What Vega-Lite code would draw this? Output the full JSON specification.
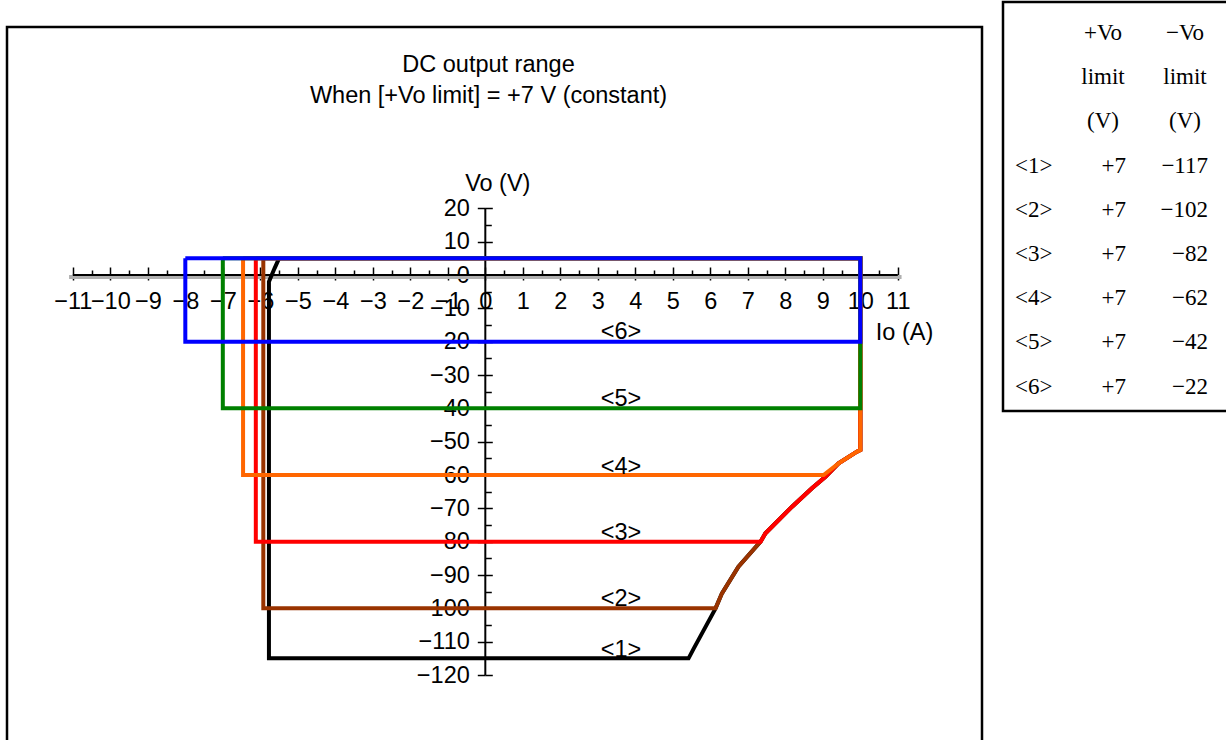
{
  "$schema": "https://vega.github.io/schema/vega-lite/v6.json",
  "padding": {"left": 5, "top": 0, "right": 0, "bottom": 0},
  "background": "white",
  "config": {
    "view": {"stroke": "black", "strokeWidth": 2.5},
    "font": "Liberation Sans"
  },
  "datasets": {
    "curves": [
      {"s": "1", "i": 0, "x": -5.5, "v": 5},
      {"s": "1", "i": 1, "x": -5.62, "v": 2},
      {"s": "1", "i": 2, "x": -5.77, "v": -2},
      {"s": "1", "i": 3, "x": -5.77, "v": -115},
      {"s": "1", "i": 4, "x": 5.42, "v": -115},
      {"s": "1", "i": 5, "x": 5.56, "v": -112},
      {"s": "1", "i": 6, "x": 6.14, "v": -100},
      {"s": "1", "i": 7, "x": 6.31, "v": -95.5},
      {"s": "1", "i": 8, "x": 6.75, "v": -87.5},
      {"s": "1", "i": 9, "x": 7.34, "v": -80},
      {"s": "1", "i": 10, "x": 7.47, "v": -77.5},
      {"s": "1", "i": 11, "x": 8.18, "v": -69.5},
      {"s": "1", "i": 12, "x": 8.71, "v": -64},
      {"s": "1", "i": 13, "x": 9.07, "v": -60.5},
      {"s": "1", "i": 14, "x": 9.42, "v": -56.5},
      {"s": "1", "i": 15, "x": 9.91, "v": -53},
      {"s": "1", "i": 16, "x": 10, "v": -52.5},
      {"s": "1", "i": 17, "x": 10, "v": 5},
      {"s": "1", "i": 18, "x": -5.5, "v": 5},
      {"s": "2", "i": 0, "x": -5.92, "v": 5},
      {"s": "2", "i": 1, "x": -5.92, "v": -100},
      {"s": "2", "i": 2, "x": 6.14, "v": -100},
      {"s": "2", "i": 3, "x": 6.31, "v": -95.5},
      {"s": "2", "i": 4, "x": 6.75, "v": -87.5},
      {"s": "2", "i": 5, "x": 7.34, "v": -80},
      {"s": "2", "i": 6, "x": 7.47, "v": -77.5},
      {"s": "2", "i": 7, "x": 8.18, "v": -69.5},
      {"s": "2", "i": 8, "x": 8.71, "v": -64},
      {"s": "2", "i": 9, "x": 9.07, "v": -60.5},
      {"s": "2", "i": 10, "x": 9.42, "v": -56.5},
      {"s": "2", "i": 11, "x": 9.91, "v": -53},
      {"s": "2", "i": 12, "x": 10, "v": -52.5},
      {"s": "2", "i": 13, "x": 10, "v": 5},
      {"s": "2", "i": 14, "x": -5.92, "v": 5},
      {"s": "3", "i": 0, "x": -6.12, "v": 5},
      {"s": "3", "i": 1, "x": -6.12, "v": -80},
      {"s": "3", "i": 2, "x": 7.34, "v": -80},
      {"s": "3", "i": 3, "x": 7.47, "v": -77.5},
      {"s": "3", "i": 4, "x": 8.18, "v": -69.5},
      {"s": "3", "i": 5, "x": 8.71, "v": -64},
      {"s": "3", "i": 6, "x": 9.07, "v": -60.5},
      {"s": "3", "i": 7, "x": 9.42, "v": -56.5},
      {"s": "3", "i": 8, "x": 9.91, "v": -53},
      {"s": "3", "i": 9, "x": 10, "v": -52.5},
      {"s": "3", "i": 10, "x": 10, "v": 5},
      {"s": "3", "i": 11, "x": -6.12, "v": 5},
      {"s": "4", "i": 0, "x": -6.46, "v": 5},
      {"s": "4", "i": 1, "x": -6.46, "v": -60},
      {"s": "4", "i": 2, "x": 9.02, "v": -60},
      {"s": "4", "i": 3, "x": 9.42, "v": -56.5},
      {"s": "4", "i": 4, "x": 9.91, "v": -53},
      {"s": "4", "i": 5, "x": 10, "v": -52.5},
      {"s": "4", "i": 6, "x": 10, "v": 5},
      {"s": "4", "i": 7, "x": -6.46, "v": 5},
      {"s": "5", "i": 0, "x": -7, "v": 5},
      {"s": "5", "i": 1, "x": -7, "v": -40},
      {"s": "5", "i": 2, "x": 10, "v": -40},
      {"s": "5", "i": 3, "x": 10, "v": 5},
      {"s": "5", "i": 4, "x": -7, "v": 5},
      {"s": "6", "i": 0, "x": -8, "v": 5},
      {"s": "6", "i": 1, "x": -8, "v": -20},
      {"s": "6", "i": 2, "x": 10, "v": -20},
      {"s": "6", "i": 3, "x": 10, "v": 5},
      {"s": "6", "i": 4, "x": -8, "v": 5}
    ],
    "labels": [
      {"lab": "<1>", "x": 3.62, "v": -112.6},
      {"lab": "<2>", "x": 3.62, "v": -97.2},
      {"lab": "<3>", "x": 3.62, "v": -77.4},
      {"lab": "<4>", "x": 3.62, "v": -57.6},
      {"lab": "<5>", "x": 3.62, "v": -37.2},
      {"lab": "<6>", "x": 3.62, "v": -17.1}
    ],
    "axislines": [
      {"x": -11, "x2": 11, "v": 0, "v2": 0},
      {"x": 0, "x2": 0, "v": -120, "v2": 20}
    ],
    "xband": [
      {"x": -11.1, "x2": 11.1, "v": -0.6}
    ],
    "table": [
      {"r": 0, "c": "plus", "t": "+Vo"},
      {"r": 0, "c": "minus", "t": "−Vo"},
      {"r": 1, "c": "plus", "t": "limit"},
      {"r": 1, "c": "minus", "t": "limit"},
      {"r": 2, "c": "plus", "t": "(V)"},
      {"r": 2, "c": "minus", "t": "(V)"},
      {"r": 3, "c": "lab", "t": "<1>"},
      {"r": 3, "c": "plus", "t": "+7"},
      {"r": 3, "c": "minus", "t": "−117"},
      {"r": 4, "c": "lab", "t": "<2>"},
      {"r": 4, "c": "plus", "t": "+7"},
      {"r": 4, "c": "minus", "t": "−102"},
      {"r": 5, "c": "lab", "t": "<3>"},
      {"r": 5, "c": "plus", "t": "+7"},
      {"r": 5, "c": "minus", "t": "−82"},
      {"r": 6, "c": "lab", "t": "<4>"},
      {"r": 6, "c": "plus", "t": "+7"},
      {"r": 6, "c": "minus", "t": "−62"},
      {"r": 7, "c": "lab", "t": "<5>"},
      {"r": 7, "c": "plus", "t": "+7"},
      {"r": 7, "c": "minus", "t": "−42"},
      {"r": 8, "c": "lab", "t": "<6>"},
      {"r": 8, "c": "plus", "t": "+7"},
      {"r": 8, "c": "minus", "t": "−22"}
    ]
  },
  "spacing": 17,
  "hconcat": [
    {
      "spacing": 0,
      "vconcat": [
        {
          "width": 975,
          "height": 23,
          "view": {"stroke": null, "fill": "transparent"},
          "data": {"values": []},
          "mark": "point"
        },
        {
          "width": 975,
          "height": 720,
          "title": {
            "text": "DC output range",
            "subtitle": "When [+Vo limit] = +7 V (constant)",
            "font": "Liberation Sans",
            "subtitleFont": "Liberation Sans",
            "fontSize": 23.5,
            "subtitleFontSize": 23.5,
            "fontWeight": "normal",
            "color": "black",
            "subtitleColor": "black",
            "anchor": "middle",
            "offset": -80,
            "subtitlePadding": 7,
            "dx": -6
          },
          "resolve": {"axis": {"x": "independent", "y": "independent"}},
          "layer": [
            {
              "data": {"name": "xband"},
              "mark": {"type": "rule", "color": "#b0b0b0", "strokeWidth": 4},
              "encoding": {
                "x": {"field": "x", "type": "quantitative", "axis": null},
                "x2": {"field": "x2"},
                "y": {"field": "v", "type": "quantitative", "axis": null}
              }
            },
            {
              "data": {"name": "axislines"},
              "mark": {"type": "rule", "color": "black", "strokeWidth": 2},
              "encoding": {
                "x": {
                  "field": "x", "type": "quantitative",
                  "scale": {"domain": [-12.755, 13.245], "nice": false, "zero": false},
                  "axis": {
                    "orient": "bottom", "offset": -472,
                    "values": [-11, -10, -9, -8, -7, -6, -5, -4, -3, -2, -1, 0, 1, 2, 3, 4, 5, 6, 7, 8, 9, 10, 11],
                    "domain": false, "grid": false,
                    "tickSize": 5, "tickColor": "black", "tickWidth": 1.5,
                    "labelFontSize": 23.5, "labelFont": "Liberation Sans", "labelColor": "black",
                    "labelPadding": 9, "labelOverlap": false, "labelFlush": false, "labelBound": false,
                    "title": "Io (A)", "titleFont": "Liberation Sans", "titleFontSize": 23.5, "titleFontWeight": "normal",
                    "titleColor": "black", "titleX": 897, "titleY": 57, "titleAlign": "center", "titleBaseline": "middle", "titleAngle": 0
                  }
                },
                "x2": {"field": "x2"},
                "y": {
                  "field": "v", "type": "quantitative",
                  "scale": {"domain": [-141.6, 74.4], "nice": false, "zero": false},
                  "axis": {
                    "orient": "left", "offset": -478.3,
                    "values": [-120, -110, -100, -90, -80, -70, -60, -50, -40, -30, -20, -10, 0, 10, 20],
                    "domain": false, "grid": false,
                    "tickSize": 8, "tickColor": "black", "tickWidth": 1.5,
                    "labelFontSize": 23.5, "labelFont": "Liberation Sans", "labelColor": "black",
                    "labelPadding": 8, "labelOverlap": false, "labelFlush": false, "labelBound": false,
                    "title": "Vo (V)", "titleFont": "Liberation Sans", "titleFontSize": 23.5, "titleFontWeight": "normal",
                    "titleColor": "black", "titleX": 12, "titleY": 156, "titleAlign": "center", "titleBaseline": "middle", "titleAngle": 0
                  }
                },
                "y2": {"field": "v2"}
              }
            },
            {
              "data": {"name": "curves"},
              "mark": {"type": "line", "strokeWidth": 4},
              "encoding": {
                "x": {
                  "field": "x", "type": "quantitative",
                  "axis": {
                    "orient": "top", "offset": -248,
                    "values": [-11, -10.5, -10, -9.5, -9, -8.5, -8, -7.5, -7, -6.5, -6, -5.5, -5, -4.5, -4, -3.5, -3, -2.5, -2, -1.5, -1, -0.5, 0, 0.5, 1, 1.5, 2, 2.5, 3, 3.5, 4, 4.5, 5, 5.5, 6, 6.5, 7, 7.5, 8, 8.5, 9, 9.5, 10, 10.5, 11],
                    "domain": false, "grid": false, "labels": false,
                    "tickColor": "black", "tickWidth": 1.5,
                    "tickSize": {"condition": {"test": "datum.value % 1 === 0", "value": 8}, "value": 5},
                    "title": null
                  }
                },
                "y": {
                  "field": "v", "type": "quantitative",
                  "axis": {
                    "orient": "right", "offset": -496.7,
                    "values": [-120, -115, -110, -105, -100, -95, -90, -85, -80, -75, -70, -65, -60, -55, -50, -45, -40, -35, -30, -25, -20, -15, -10, -5, 0, 5, 10, 15, 20],
                    "domain": false, "grid": false, "labels": false,
                    "tickColor": "black", "tickWidth": 1.5,
                    "tickSize": {"condition": {"test": "datum.value % 10 === 0", "value": 7}, "value": 6},
                    "title": null
                  }
                },
                "color": {
                  "field": "s", "type": "nominal",
                  "scale": {"domain": ["1", "2", "3", "4", "5", "6"], "range": ["#000000", "#993300", "#ff0000", "#ff6600", "#008000", "#0000ff"]},
                  "legend": null
                },
                "order": {"field": "i", "type": "quantitative"}
              }
            },
            {
              "data": {"name": "labels"},
              "mark": {"type": "text", "fontSize": 23.5, "font": "Liberation Sans", "color": "black", "align": "center", "baseline": "middle"},
              "encoding": {
                "x": {"field": "x", "type": "quantitative", "axis": null},
                "y": {"field": "v", "type": "quantitative", "axis": null},
                "text": {"field": "lab"}
              }
            }
          ]
        }
      ]
    },
    {
      "width": 226,
      "height": 409,
      "data": {"name": "table"},
      "encoding": {
        "x": {"field": "c", "type": "nominal", "scale": {"type": "point", "domain": ["lab", "plus", "minus"], "range": [41, 205], "padding": 0}, "axis": null},
        "y": {"field": "r", "type": "quantitative", "scale": {"domain": [0, 8], "range": [31, 384.6]}, "axis": null},
        "text": {"field": "t"}
      },
      "layer": [
        {
          "transform": [{"filter": "datum.c === 'lab'"}],
          "mark": {"type": "text", "font": "Liberation Serif", "fontSize": 23, "color": "black", "align": "left", "baseline": "middle", "dx": -29}
        },
        {
          "transform": [{"filter": "datum.c !== 'lab' && datum.r >= 3"}],
          "mark": {"type": "text", "font": "Liberation Serif", "fontSize": 23, "color": "black", "align": "right", "baseline": "middle"}
        },
        {
          "transform": [{"filter": "datum.c !== 'lab' && datum.r < 3"}],
          "mark": {"type": "text", "font": "Liberation Serif", "fontSize": 23, "color": "black", "align": "center", "baseline": "middle", "dx": -23}
        }
      ]
    }
  ]
}
